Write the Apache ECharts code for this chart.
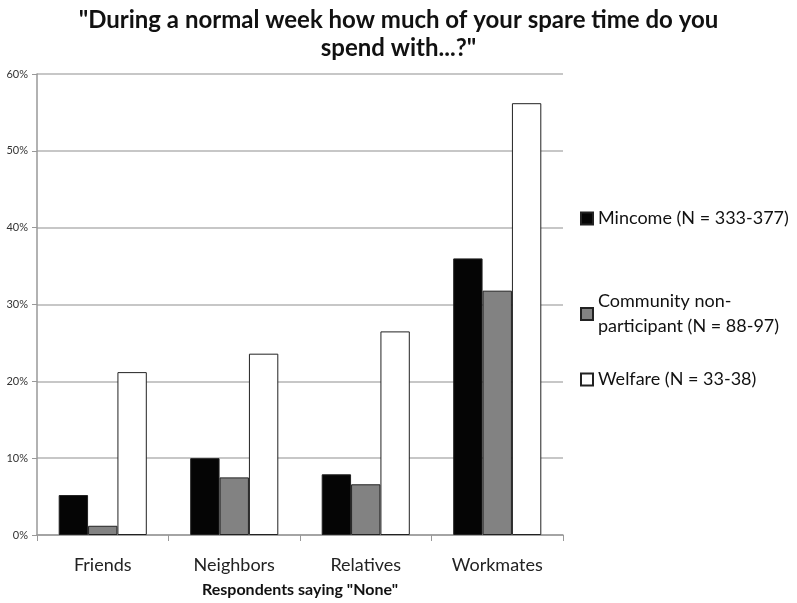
<!DOCTYPE html>
<html><head><meta charset="utf-8">
<script src="https://cdn.jsdelivr.net/npm/echarts@6/dist/echarts.min.js"></script>
<style>html,body{margin:0;padding:0;background:#fff;overflow:hidden}#c{width:797px;height:603px}</style>
</head><body><div id="c"></div>
<script>
const categories = ['Friends', 'Neighbors', 'Relatives', 'Workmates'];
const mincome = [5.2, 10.0, 7.9, 36.0];
const community = [1.2, 7.5, 6.6, 31.8];
const welfare = [21.2, 23.6, 26.5, 56.2];
const seriesNames = ['Mincome (N = 333-377)', 'Community non-\nparticipant (N = 88-97)', 'Welfare (N = 33-38)'];
const FONT = 'Lato';
const chart = echarts.init(document.getElementById('c'), null, {renderer: 'canvas'});
const barStyle = c => ({color: c, borderColor: '#222', borderWidth: 1});
const legendBase = {
  left: 575, orient: 'vertical', itemWidth: 12, itemHeight: 12, itemGap: 4,
  textStyle: {fontFamily: FONT, fontSize: 18, color: '#111', lineHeight: 25},
  icon: 'rect'
};
chart.setOption({
  animation: false,
  title: {
    text: '"During a normal week how much of your spare time do you\nspend with...?"',
    left: 'center', top: 1,
    textStyle: {fontFamily: FONT, fontSize: 24, fontWeight: 'bold', color: '#111', lineHeight: 28}
  },
  legend: [
    Object.assign({}, legendBase, {top: 201, data: [seriesNames[0]]}),
    Object.assign({}, legendBase, {top: 284, data: [seriesNames[1]]}),
    Object.assign({}, legendBase, {top: 362, data: [seriesNames[2]]})
  ],
  grid: {left: 37, width: 526, top: 74, height: 472, containLabel: false},
  xAxis: {
    type: 'category', data: categories,
    name: 'Respondents saying "None"', nameLocation: 'middle', nameGap: 47,
    nameTextStyle: {fontFamily: FONT, fontSize: 16, fontWeight: 'bold', color: '#111'},
    axisLine: {lineStyle: {color: '#999', width: 1.5}},
    axisTick: {show: true, length: 6, lineStyle: {color: '#999'}},
    axisLabel: {fontFamily: FONT, fontSize: 18, color: '#222', margin: 21}
  },
  yAxis: {
    type: 'value', min: 0, max: 60, interval: 10,
    axisLine: {show: true, lineStyle: {color: '#999', width: 1.5}},
    axisTick: {show: true, length: 5, lineStyle: {color: '#999'}},
    splitLine: {lineStyle: {color: '#b5b5b5', width: 1.5}},
    axisLabel: {formatter: '{value}%', fontFamily: FONT, fontSize: 11, color: '#333', margin: 9}
  },
  series: [
    {name: seriesNames[0], type: 'bar', data: mincome, itemStyle: barStyle('#050505'), barGap: '0%', barCategoryGap: '33%'},
    {name: seriesNames[1], type: 'bar', data: community, itemStyle: barStyle('#828282')},
    {name: seriesNames[2], type: 'bar', data: welfare, itemStyle: barStyle('#ffffff')}
  ]
});
</script></body></html>
